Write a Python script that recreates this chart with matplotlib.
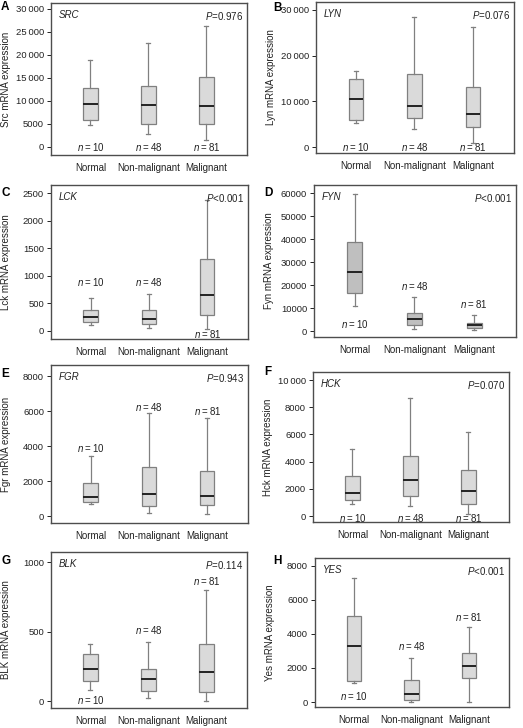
import numpy as np
import matplotlib
matplotlib.use('Agg')
import matplotlib.pyplot as plt

plt.rcParams['font.family'] = ['Liberation Sans', 'DejaVu Sans']
plt.rcParams['mathtext.fontset'] = 'custom'
plt.rcParams['mathtext.rm'] = 'Liberation Sans'
plt.rcParams['mathtext.it'] = 'Liberation Sans:italic'

groups = ['Normal', 'Non-malignant', 'Malignant']
n_counts = [10, 48, 81]

genes = ['SRC', 'LYN', 'LCK', 'FYN', 'FGR', 'HCK', 'BLK', 'YES']
panel_letters = ['A', 'B', 'C', 'D', 'E', 'F', 'G', 'H']
ylabels = ['Src mRNA expression', 'Lyn mRNA expression', 'Lck mRNA expression',
           'Fyn mRNA expression', 'Fgr mRNA expression', 'Hck mRNA expression',
           'BLK mRNA expression', 'Yes mRNA expression']
p_texts = ['=0.976', '=0.076', '<0.001', '<0.001', '=0.943', '=0.070', '=0.114', '<0.001']

# box stats per gene: [low whisker, Q1, median, Q3, high whisker] for Normal, Non-malignant, Malignant
src = [[4700, 5950, 9400, 12900, 19000], [2900, 4900, 9200, 13200, 22500], [1600, 4900, 9000, 15250, 26400]]
lyn = [[5300, 5850, 10500, 14850, 16700], [4000, 6400, 8900, 16000, 28500], [900, 4400, 7300, 13100, 26200]]
lck = [[109, 163, 254, 381, 593], [48, 127, 224, 387, 666], [30, 297, 654, 1301, 2367]]
fyn = [[10900, 16400, 25600, 38500, 59600], [1000, 2500, 5400, 8000, 14700], [400, 1300, 2500, 3600, 7000]]
fgr = [[670, 780, 1070, 1870, 3450], [150, 570, 1240, 2820, 5900], [110, 610, 1120, 2590, 5580]]
hck = [[880, 1200, 1700, 2920, 4940], [710, 1450, 2680, 4400, 8650], [170, 860, 1820, 3415, 6190]]
blk = [[79, 141, 232, 340, 407], [24, 69, 155, 227, 428], [0, 67, 206, 407, 801]]
yes = [[1120, 1250, 3310, 5060, 7290], [0, 100, 490, 1310, 2610], [0, 1410, 2140, 2860, 4430]]
all_stats = [src, lyn, lck, fyn, fgr, hck, blk, yes]

# y position of the n= labels
n_label_y = [[0, 0, 0], [0, 0, 0], [890, 890, -55], [3000, 19600, 11900],
             [3900, 6250, 6000], [-120, -120, -120], [7, 514, 864], [350, 3270, 5000]]

ytick_vals = [[0, 5000, 10000, 15000, 20000, 25000, 30000],
              [0, 10000, 20000, 30000],
              [0, 500, 1000, 1500, 2000, 2500],
              [0, 10000, 20000, 30000, 40000, 50000, 60000],
              [0, 2000, 4000, 6000, 8000],
              [0, 2000, 4000, 6000, 8000, 10000],
              [0, 500, 1000],
              [0, 2000, 4000, 6000, 8000]]
ytick_labels = [['0', '5000', '10\u2009000', '15\u2009000', '20\u2009000', '25\u2009000', '30\u2009000'],
                ['0', '10\u2009000', '20\u2009000', '30\u2009000'],
                ['0', '500', '1000', '1500', '2000', '2500'],
                ['0', '10000', '20000', '30000', '40000', '50000', '60000'],
                ['0', '2000', '4000', '6000', '8000'],
                ['0', '2000', '4000', '6000', '8000', '10\u2009000'],
                ['0', '500', '1000'],
                ['0', '2000', '4000', '6000', '8000']]

ylims = [(-1740, 31300), (-1310, 31750), (-145, 2645), (-2600, 63500),
         (-400, 8630), (-440, 10590), (-50, 1072), (-294, 8470)]

# axes boxes in pixels: left, top, right, bottom
W, H = 523, 728
boxes_px = [(51, 3, 247, 155), (316, 2, 514, 153),
            (51, 185, 248, 339), (314, 185, 516, 337),
            (51, 365, 248, 523), (313, 372, 509, 522),
            (51, 552, 247, 708), (315, 558, 509, 707)]
letter_px = [(1, 7), (273, 8), (1, 193), (264, 193), (1, 374), (264, 372), (1, 561), (273, 561)]
ylabel_right_px = [11, 276, 11, 274, 11, 273, 11, 275]

fig = plt.figure(figsize=(W / 100, H / 100), dpi=100)

for i in range(8):
    l, t, r, b = boxes_px[i]
    ax = fig.add_axes([l / W, 1 - b / H, (r - l) / W, (b - t) / H])
    stats = []
    for j, s in enumerate(all_stats[i]):
        stats.append(dict(whislo=s[0], q1=s[1], med=s[2], q3=s[3], whishi=s[4], fliers=[], label=groups[j]))
    face = '#bfbfbf' if genes[i] == 'FYN' else '#dadada'
    ax.bxp(stats, positions=[1, 2, 3], widths=0.25, patch_artist=True, showfliers=False,
           boxprops=dict(facecolor=face, edgecolor='#808080', linewidth=0.9),
           whiskerprops=dict(color='#808080', linewidth=0.9),
           capprops=dict(color='#808080', linewidth=0.9),
           medianprops=dict(color='#222222', linewidth=1.4),
           capwidths=0.07)
    ax.set_xlim(0.32, 3.7)
    ax.set_ylim(*ylims[i])
    ax.set_yticks(ytick_vals[i])
    ax.set_yticklabels(ytick_labels[i])
    ax.set_xticks([1, 2, 3])
    ax.set_xticklabels(groups)
    ax.tick_params(axis='x', length=0, pad=6, labelsize=7, colors='#222222')
    ax.tick_params(axis='y', length=3, width=0.7, pad=2, labelsize=6.8, colors='#222222')
    for sp in ax.spines.values():
        sp.set_color('#4d4d4d')
        sp.set_linewidth(1.0)
    ax.set_ylabel(ylabels[i], fontsize=7, color='#222222')
    ax.yaxis.set_label_coords((ylabel_right_px[i] - l) / (r - l), 0.5)
    ax.text(0.04, 0.955, genes[i], transform=ax.transAxes, fontsize=7, style='italic',
            ha='left', va='top', color='#222222')
    ax.text(0.98, 0.955, '$P$' + p_texts[i], transform=ax.transAxes, fontsize=7,
            ha='right', va='top', color='#222222')
    for j in range(3):
        ax.text(j + 1, n_label_y[i][j], '$n$\u2009=\u2009%d' % n_counts[j], fontsize=7,
                ha='center', va='center', color='#222222')
    lx, ly = letter_px[i]
    fig.text(lx / W, 1 - ly / H, panel_letters[i], fontsize=8.5, fontweight='bold',
             ha='left', va='center')

fig.savefig('out.png', dpi=100)
